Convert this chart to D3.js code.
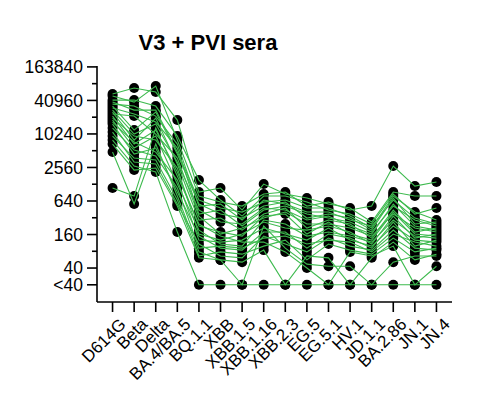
<!DOCTYPE html>
<html>
<head>
<meta charset="utf-8">
<script src="https://cdn.jsdelivr.net/npm/d3@7"></script>
<style>
  html, body { margin: 0; padding: 0; background: #fff; }
  svg { display: block; font-family: Arial, "Liberation Sans", Helvetica, sans-serif; }
</style>
</head>
<body>
<svg id="chart" width="494" height="398"></svg>
<script>
const title = "V3 + PVI sera";
const categories = ["D614G", "Beta", "Delta", "BA.4/BA.5", "BQ.1.1", "XBB", "XBB.1.5", "XBB.1.16",
  "XBB.2.3", "EG.5", "EG.5.1", "HV.1", "JD.1.1", "BA.2.86", "JN.1", "JN.4"];
const majorTicks = [163840, 40960, 10240, 2560, 640, 160, 40, 20];
const minorTicks = [81920, 20480, 5120, 1280, 320, 80];
const belowLimitValue = 20;   // plotted value for "<40"
const belowLimitLabel = "<40";

// neutralising titers per serum sample (columns follow `categories`); 20 = below limit (<40)
const titers = [
  [53246, 68238, 57836, 18173, 926, 1093, 440, 1289, 852, 723, 564, 478, 268, 926, 785, 785],
  [49020, 38251, 74121, 7949, 785, 612, 519, 852, 926, 519, 612, 440, 519, 2713, 1187, 1400],
  [41548, 41548, 32420, 9378, 1521, 665, 343, 785, 785, 612, 440, 373, 247, 852, 373, 478],
  [38251, 27478, 27478, 4840, 665, 478, 405, 612, 665, 478, 478, 343, 209, 785, 405, 291],
  [35215, 32420, 21441, 6737, 519, 564, 291, 665, 564, 405, 405, 291, 227, 665, 316, 247],
  [32420, 12019, 25297, 4456, 564, 373, 316, 519, 612, 316, 373, 316, 192, 723, 247, 268],
  [29847, 23289, 16730, 5710, 373, 440, 227, 440, 519, 373, 316, 268, 177, 519, 291, 227],
  [27478, 10187, 15403, 3201, 440, 268, 247, 478, 440, 291, 343, 227, 163, 564, 227, 192],
  [25297, 7949, 19739, 2947, 291, 316, 192, 373, 478, 209, 291, 247, 138, 440, 177, 209],
  [23289, 21441, 10187, 3777, 343, 163, 209, 316, 405, 247, 247, 209, 150, 373, 209, 177],
  [21441, 6737, 12019, 2117, 227, 177, 150, 343, 373, 163, 268, 163, 127, 405, 163, 150],
  [19739, 9378, 7949, 2498, 163, 127, 163, 268, 209, 192, 227, 177, 108, 343, 138, 163],
  [18173, 5710, 9378, 1289, 192, 108, 99, 291, 247, 150, 177, 150, 117, 291, 150, 138],
  [16730, 7318, 4840, 1521, 127, 117, 127, 209, 163, 127, 209, 127, 99, 227, 127, 117],
  [15403, 4456, 5710, 926, 150, 91, 84, 177, 177, 91, 163, 138, 91, 268, 99, 127],
  [13055, 5257, 4102, 1093, 91, 99, 91, 138, 150, 108, 127, 117, 78, 163, 117, 99],
  [11065, 3201, 2947, 564, 108, 66, 61, 150, 108, 78, 138, 99, 84, 192, 91, 84],
  [9378, 3777, 3477, 665, 66, 78, 71, 99, 127, 56, 108, 84, 71, 138, 78, 91],
  [7949, 2713, 2117, 177, 20, 20, 20, 20, 20, 20, 20, 20, 20, 20, 20, 20],
  [6737, 2300, 2498, 519, 61, 56, 20, 227, 91, 47, 43, 43, 20, 51, 66, 66],
  [4840, 564, 6737, 785, 78, 56, 51, 84, 20, 66, 61, 20, 61, 117, 56, 71],
  [1093, 785, 13055, 1795, 247, 150, 117, 117, 78, 40, 20, 78, 66, 99, 20, 43]
];

const svg = d3.select("#chart");
const axisX = 97, axisBottom = 302, axisTop = 66, axisRight = 452;

const x = d3.scalePoint().domain(categories).range([axisX, axisRight]).padding(0.72);
const y = d3.scaleLog().base(2).domain([20, 163840]).range([284.8, 66.9]);

const green = "#3dba4e";

// title
svg.append("text")
  .attr("x", 208).attr("y", 50)
  .attr("text-anchor", "middle")
  .attr("font-size", 22).attr("font-weight", "bold")
  .text(title);

// y axis
const yAxis = svg.append("g").attr("transform", `translate(${axisX},0)`);
yAxis.append("line").attr("x1", 0).attr("x2", 0).attr("y1", axisTop).attr("y2", axisBottom)
  .attr("stroke", "#000").attr("stroke-width", 1.6);
yAxis.selectAll("line.major").data(majorTicks).join("line").attr("class", "major")
  .attr("x1", -10).attr("x2", 0).attr("y1", d => y(d)).attr("y2", d => y(d))
  .attr("stroke", "#000").attr("stroke-width", 1.6);
yAxis.selectAll("line.minor").data(minorTicks).join("line").attr("class", "minor")
  .attr("x1", -5).attr("x2", 0).attr("y1", d => y(d)).attr("y2", d => y(d))
  .attr("stroke", "#000").attr("stroke-width", 1.6);
yAxis.selectAll("text").data(majorTicks).join("text")
  .attr("x", -14).attr("y", d => y(d)).attr("dy", "0.35em")
  .attr("text-anchor", "end").attr("font-size", 17.5)
  .text(d => d === belowLimitValue ? belowLimitLabel : d3.format("d")(d));

// x axis
const xAxis = svg.append("g").attr("transform", `translate(0,${axisBottom})`);
xAxis.append("line").attr("x1", axisX).attr("x2", axisRight).attr("y1", 0).attr("y2", 0)
  .attr("stroke", "#000").attr("stroke-width", 1.6);
xAxis.selectAll("line.tick").data(categories).join("line").attr("class", "tick")
  .attr("x1", d => x(d)).attr("x2", d => x(d)).attr("y1", 0).attr("y2", 10)
  .attr("stroke", "#000").attr("stroke-width", 1.6);
xAxis.selectAll("text").data(categories).join("text")
  .attr("transform", d => `translate(${x(d) + 6},${15}) rotate(-45)`)
  .attr("text-anchor", "end").attr("dy", "0.7em")
  .attr("font-size", 17)
  .text(d => d);

// dots
const plot = svg.append("g");
titers.forEach(row => {
  plot.append("g").selectAll("circle").data(row).join("circle")
    .attr("cx", (d, i) => x(categories[i]))
    .attr("cy", d => y(d))
    .attr("r", 5)
    .attr("fill", "#000");
});

// lines
const line = d3.line().x((d, i) => x(categories[i])).y(d => y(d));
plot.append("g").selectAll("path").data(titers).join("path")
  .attr("d", line)
  .attr("fill", "none")
  .attr("stroke", green)
  .attr("stroke-width", 1.1);
</script>
</body>
</html>
